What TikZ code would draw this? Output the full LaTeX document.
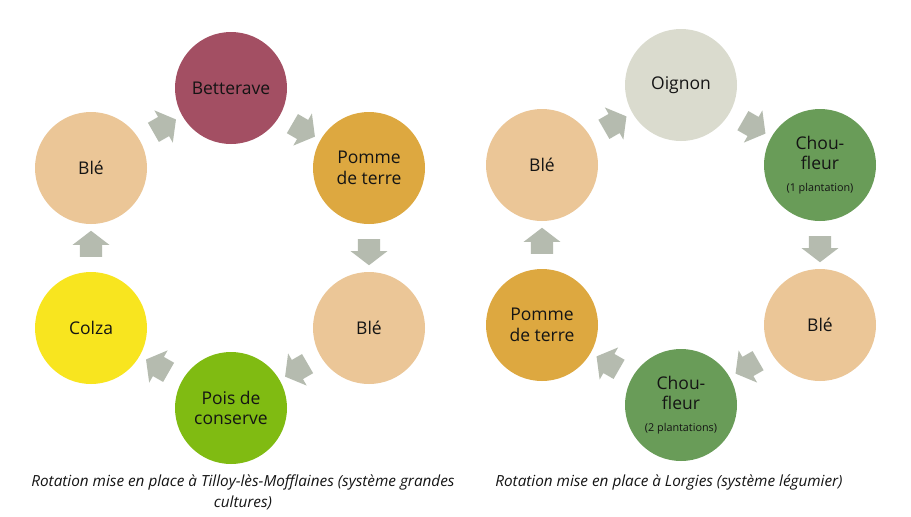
\documentclass[tikz,border=0pt]{standalone}
\usepackage{fontspec}
\setmainfont{Open Sans}
\usetikzlibrary{shapes.arrows}
\definecolor{cBet}{HTML}{A34F63}
\definecolor{cPdt}{HTML}{DDA840}
\definecolor{cBle}{HTML}{EBC697}
\definecolor{cPois}{HTML}{80BB12}
\definecolor{cColza}{HTML}{F8E51F}
\definecolor{cOig}{HTML}{DADBCE}
\definecolor{cChou}{HTML}{699C58}
\definecolor{cArrow}{HTML}{B5BBAF}
\definecolor{cText}{HTML}{141414}
\begin{document}
\begin{tikzpicture}[x=1pt,y=-1pt,
  crop/.style={circle, minimum size=112pt, inner sep=0pt, draw=none, text=cText, align=center, font=\fontsize{17.5}{20.5}\selectfont},
  flow/.style={single arrow, fill=cArrow, draw=none, minimum height=26pt, single arrow head extend=7.5pt, single arrow tip angle=105, inner xsep=0pt, inner ysep=10.85pt, sloped, allow upside down},
  caption/.style={text=cText, align=center, font=\itshape\fontsize{15.3}{21}\selectfont}]
\useasboundingbox (0,0) rectangle (911,517);
\fill[white] (0,0) rectangle (911,517);
% left rotation
\node[crop, fill=cBle]   (L1) at (91,168)  {Blé};
\node[crop, fill=cBet]   (L2) at (231,88)  {Betterave};
\node[crop, fill=cPdt]   (L3) at (369,168) {Pomme\\de terre};
\node[crop, fill=cBle]   (L4) at (369,328) {Blé};
\node[crop, fill=cPois]  (L5) at (231,408) {Pois de\\conserve};
\node[crop, fill=cColza] (L6) at (91,328)  {Colza};
\path (L1) -- (L2) node[midway, flow] (aL12) {};
\path (L2) -- (L3) node[midway, flow] (aL23) {};
\path (L3) -- (L4) node[midway, flow] (aL34) {};
\path (L4) -- (L5) node[midway, flow] (aL45) {};
\path (L5) -- (L6) node[midway, flow] (aL56) {};
\path (L6) -- (L1) node[midway, flow] (aL61) {};
% right rotation
\node[crop, fill=cBle]  (R1) at (542,165) {Blé};
\node[crop, fill=cOig]  (R2) at (681,85)  {Oignon};
\node[crop, fill=cChou] (R3) at (820,165) {Chou-\\fleur\\[1pt]{\fontsize{10.8}{12}\selectfont (1 plantation)}};
\node[crop, fill=cBle]  (R4) at (820,325) {Blé};
\node[crop, fill=cChou] (R5) at (681,405) {Chou-\\fleur\\[1pt]{\fontsize{10.8}{12}\selectfont (2 plantations)}};
\node[crop, fill=cPdt]  (R6) at (542,325) {Pomme\\de terre};
\path (R1) -- (R2) node[midway, flow] (aR12) {};
\path (R2) -- (R3) node[midway, flow] (aR23) {};
\path (R3) -- (R4) node[midway, flow] (aR34) {};
\path (R4) -- (R5) node[midway, flow] (aR45) {};
\path (R5) -- (R6) node[midway, flow] (aR56) {};
\path (R6) -- (R1) node[midway, flow] (aR61) {};
% captions
\node[caption] (capL) at (243,492) {Rotation mise en place à Tilloy-lès-Mofflaines (système grandes\\cultures)};
\node[caption] (capR) at (669,482) {Rotation mise en place à Lorgies (système légumier)};
\end{tikzpicture}
\end{document}
